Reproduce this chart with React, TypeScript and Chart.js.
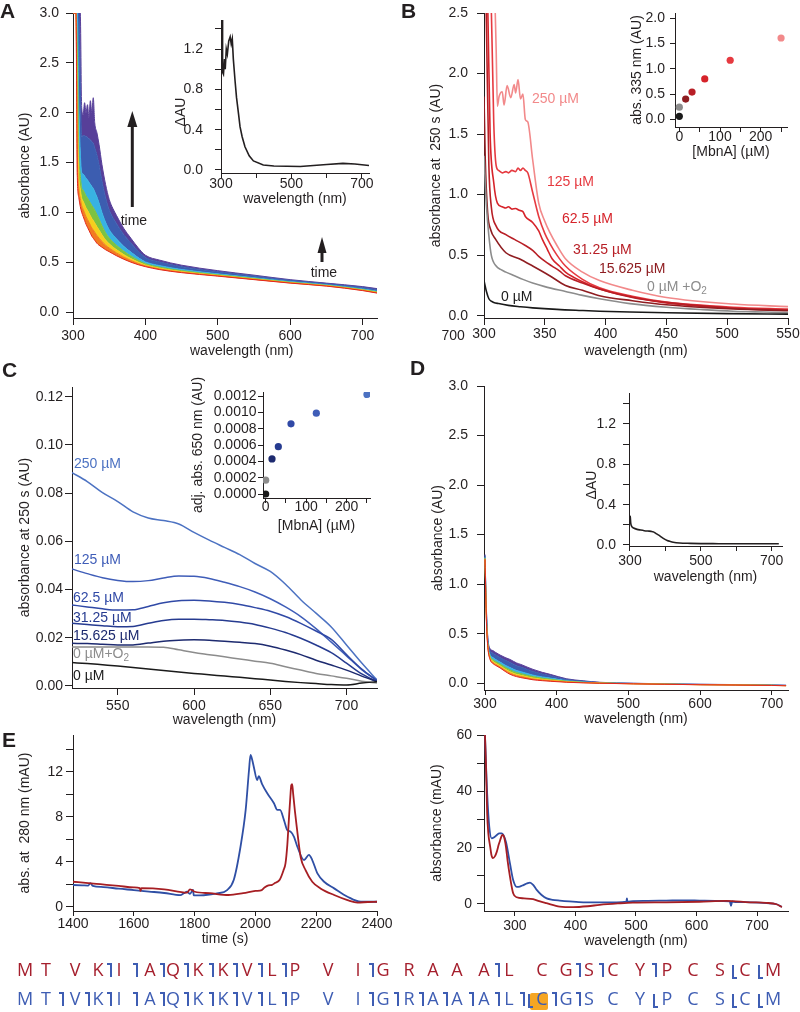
import React, { useEffect, useRef } from "react";
import { Chart, registerables } from "chart.js";

Chart.register(...registerables);

const INK = "#231f20";
const SANS = "'Liberation Sans', Arial, Helvetica, sans-serif";

// ================= Panel A : spectra over time =================
const wlA = [300, 304, 306, 308, 310, 312, 314, 316, 318, 320, 322, 324, 326, 328, 330, 333, 336, 340, 345, 350, 355, 360, 370, 380, 390, 400, 420, 450, 500, 550, 600, 650, 700, 720];
const aRed = [3.0, 3.0, 1.35, 1.15, 1.06, 1.0, 0.96, 0.92, 0.88, 0.85, 0.82, 0.79, 0.76, 0.74, 0.72, 0.69, 0.67, 0.65, 0.625, 0.605, 0.585, 0.565, 0.53, 0.5, 0.475, 0.455, 0.425, 0.395, 0.36, 0.325, 0.29, 0.26, 0.215, 0.19];
const aOrange = [3.0, 3.0, 1.6, 1.24, 1.14, 1.067, 1.031, 0.994, 0.957, 0.929, 0.901, 0.872, 0.843, 0.823, 0.801, 0.768, 0.741, 0.708, 0.671, 0.642, 0.617, 0.593, 0.552, 0.517, 0.487, 0.463, 0.432, 0.4, 0.364, 0.328, 0.292, 0.262, 0.218, 0.193];
const aYellow = [3.0, 3.0, 2.0, 1.38, 1.24, 1.143, 1.112, 1.079, 1.045, 1.02, 0.993, 0.966, 0.939, 0.919, 0.894, 0.857, 0.822, 0.775, 0.723, 0.684, 0.653, 0.626, 0.577, 0.536, 0.501, 0.472, 0.439, 0.406, 0.368, 0.332, 0.295, 0.265, 0.221, 0.197];
const aGreen = [3.0, 3.0, 2.6, 1.6, 1.38, 1.247, 1.223, 1.196, 1.166, 1.144, 1.119, 1.094, 1.069, 1.049, 1.022, 0.979, 0.933, 0.866, 0.795, 0.742, 0.703, 0.67, 0.611, 0.562, 0.519, 0.485, 0.45, 0.415, 0.374, 0.337, 0.299, 0.268, 0.225, 0.202];
const aCyan = [3.0, 3.0, 3.0, 2.1, 1.62, 1.399, 1.384, 1.365, 1.342, 1.325, 1.303, 1.281, 1.26, 1.24, 1.207, 1.156, 1.094, 0.999, 0.9, 0.826, 0.776, 0.735, 0.66, 0.601, 0.546, 0.503, 0.465, 0.427, 0.383, 0.344, 0.305, 0.273, 0.232, 0.209];
const aBlue = [3.0, 3.0, 3.0, 3.0, 2.3, 1.76, 1.768, 1.768, 1.76, 1.754, 1.74, 1.726, 1.712, 1.692, 1.648, 1.578, 1.478, 1.314, 1.149, 1.025, 0.949, 0.889, 0.778, 0.692, 0.611, 0.547, 0.501, 0.455, 0.404, 0.361, 0.318, 0.284, 0.247, 0.226];
const aViolet = [3.0, 3.0, 3.0, 3.0, 3.0, 2.05, 1.98, 2.1, 2.0, 2.08, 1.95, 2.12, 2.0, 2.15, 1.9, 1.8, 1.68, 1.48, 1.28, 1.13, 1.04, 0.97, 0.84, 0.74, 0.645, 0.57, 0.52, 0.47, 0.415, 0.37, 0.325, 0.29, 0.255, 0.235];
const rainbowColors = ["#e2261e", "#f27b21", "#f5cf1d", "#7cc242", "#38b2e2", "#3c5db0", "#573f99"];

const wlAInset = [300, 300.5, 303, 304, 305, 307, 310, 312, 315, 318, 322, 326, 329, 332, 335, 340, 344, 350, 354, 360, 368, 380, 392, 420, 450, 525, 600, 646, 680, 720];
const dAInset = [0, 3, 3, 1.0, 0.97, 0.95, 1.1, 1.0, 1.2, 1.15, 1.28, 1.32, 1.25, 1.3, 1.1, 0.88, 0.72, 0.55, 0.43, 0.33, 0.23, 0.14, 0.09, 0.05, 0.04, 0.035, 0.055, 0.065, 0.06, 0.045];

// ================= Panel B : absorbance at 250 s =================
const xB0 = [300, 302, 304, 306, 308, 312, 320, 330, 340, 360, 380, 395, 420, 450, 500, 550];
const yB0 = [0.29, 0.2, 0.14, 0.12, 0.11, 0.1, 0.085, 0.074, 0.065, 0.052, 0.043, 0.037, 0.03, 0.024, 0.017, 0.013];
const xBO2 = [300, 302, 304, 306, 310, 314, 318, 325, 332, 340, 350, 367, 380, 395, 420, 450, 480, 505, 530, 550];
const yBO2 = [1.32, 0.91, 0.66, 0.5, 0.41, 0.38, 0.36, 0.33, 0.3, 0.27, 0.24, 0.2, 0.17, 0.14, 0.1, 0.07, 0.05, 0.037, 0.03, 0.025];
const xB15 = [300, 301, 303, 305.5, 309.6, 318, 329, 340, 354, 367, 381, 395, 422, 450, 505, 550];
const yB15 = [1.81, 1.3, 0.85, 0.71, 0.63, 0.52, 0.47, 0.41, 0.33, 0.25, 0.21, 0.165, 0.124, 0.09, 0.055, 0.041];
const xB31 = [300, 302, 304, 306, 310, 318, 325, 334, 340, 345, 350, 356, 362, 367, 381, 395, 422, 450, 505, 550];
const yB31 = [3.5, 2.4, 1.24, 0.9, 0.74, 0.67, 0.63, 0.58, 0.54, 0.49, 0.45, 0.41, 0.37, 0.33, 0.27, 0.22, 0.15, 0.11, 0.062, 0.045];
const xB62 = [300, 303, 305, 308, 311, 315, 318, 320, 323, 326, 329, 332, 334, 340, 345, 348, 352, 356, 362, 367, 381, 395, 422, 450, 505, 550];
const yB62 = [3.5, 2.6, 1.51, 1.1, 0.93, 0.9, 0.89, 0.9, 0.88, 0.885, 0.87, 0.86, 0.82, 0.77, 0.7, 0.63, 0.55, 0.47, 0.41, 0.36, 0.28, 0.22, 0.155, 0.105, 0.062, 0.048];
const xB125 = [300, 305, 308, 310, 312, 315, 318, 320, 323, 326, 328, 330, 332, 334, 336, 340, 345, 350, 354, 360, 367, 381, 395, 422, 450, 505, 550];
const yB125 = [3.5, 3.0, 1.6, 1.24, 1.2, 1.18, 1.19, 1.18, 1.2, 1.19, 1.22, 1.2, 1.22, 1.2, 1.18, 1.02, 0.82, 0.68, 0.6, 0.5, 0.41, 0.3, 0.23, 0.16, 0.112, 0.07, 0.055];
const xB250 = [309, 310, 311, 312.4, 315, 316.5, 319, 322, 324.8, 326, 328, 330, 332, 334, 336, 340, 345, 350, 354, 360, 367, 381, 395, 422, 450, 505, 550];
const yB250 = [2.6, 2.2, 1.73, 1.81, 1.85, 1.74, 1.9, 1.8, 1.91, 1.84, 1.95, 1.79, 1.83, 1.62, 1.6, 1.29, 0.93, 0.78, 0.69, 0.58, 0.47, 0.36, 0.29, 0.21, 0.15, 0.096, 0.075];
const redShades = ["#1a1a1a", "#8c8c8c", "#8f1d21", "#b81f26", "#d6232a", "#e63a40", "#f2898a"];

const concInset = [0, 0, 15.625, 31.25, 62.5, 125, 250];
const abs335 = [0.06, 0.24, 0.4, 0.54, 0.8, 1.17, 1.61];

// ================= Panel C : 520-720 nm =================
const wlC = [520, 530, 540, 550, 560, 570, 580, 590, 600, 610, 620, 630, 640, 650, 660, 670, 680, 690, 700, 710, 720];
const c250 = [0.0885, 0.0848, 0.0802, 0.0765, 0.0722, 0.0697, 0.0686, 0.0672, 0.0637, 0.0605, 0.0575, 0.0545, 0.0508, 0.0475, 0.0422, 0.0358, 0.0302, 0.0245, 0.017, 0.0095, 0.0025];
const c125 = [0.0485, 0.0466, 0.0449, 0.0438, 0.0433, 0.0437, 0.0448, 0.0456, 0.0455, 0.0446, 0.043, 0.0412, 0.039, 0.0362, 0.0328, 0.0288, 0.0238, 0.0182, 0.0125, 0.0068, 0.0022];
const c62 = [0.0336, 0.0328, 0.032, 0.0315, 0.0316, 0.033, 0.0345, 0.0354, 0.0356, 0.0353, 0.0347, 0.0338, 0.0325, 0.031, 0.0288, 0.026, 0.0228, 0.0193, 0.013, 0.007, 0.0022];
const c31 = [0.026, 0.0255, 0.025, 0.0246, 0.0247, 0.026, 0.0272, 0.0277, 0.0277, 0.0275, 0.0272, 0.0265, 0.0255, 0.024, 0.0222, 0.0198, 0.017, 0.0138, 0.0095, 0.005, 0.0018];
const c15 = [0.0177, 0.0176, 0.0173, 0.017, 0.017, 0.0178, 0.0186, 0.019, 0.0192, 0.019, 0.0186, 0.0181, 0.0176, 0.0165, 0.0149, 0.013, 0.0107, 0.0087, 0.0066, 0.0041, 0.0018];
const cO2 = [0.0162, 0.0162, 0.0162, 0.0162, 0.0162, 0.0162, 0.0161, 0.015, 0.0139, 0.013, 0.0121, 0.0112, 0.0103, 0.0094, 0.008, 0.0066, 0.0052, 0.0042, 0.0032, 0.002, 0.0012];
const c0 = [0.0097, 0.0093, 0.0088, 0.0083, 0.0077, 0.0071, 0.0064, 0.0058, 0.0052, 0.0047, 0.0041, 0.0036, 0.003, 0.0025, 0.0019, 0.0014, 0.001, 0.0006, 0.0004, 0.0012, 0.0018];
const blueShades = ["#1a1a1a", "#8c8c8c", "#1d2a6f", "#263b90", "#3049a6", "#3f5db8", "#4c72c2"];
const abs650 = [0.0, 0.00017, 0.00043, 0.00058, 0.00086, 0.00099, 0.00122];

// ================= Panel D : control spectra =================
const wlD = [300, 302, 304, 307, 311, 315, 321, 328, 335, 344, 350, 360, 367, 380, 391, 414, 437, 460, 507, 550, 600, 650, 700, 720];
const dRed = [1.25, 0.62, 0.36, 0.24, 0.2, 0.18, 0.155, 0.12, 0.09, 0.067, 0.057, 0.044, 0.035, 0.026, 0.02, 0.01, 0.004, 0.0, -0.006, -0.01, -0.015, -0.018, -0.022, -0.025];
const dOrange = [1.254, 0.63, 0.368, 0.249, 0.21, 0.19, 0.165, 0.131, 0.102, 0.078, 0.068, 0.053, 0.043, 0.033, 0.026, 0.013, 0.006, 0.001, -0.006, -0.01, -0.015, -0.018, -0.022, -0.025];
const dYellow = [1.259, 0.642, 0.377, 0.259, 0.222, 0.202, 0.177, 0.144, 0.116, 0.09, 0.08, 0.064, 0.053, 0.04, 0.032, 0.016, 0.008, 0.002, -0.005, -0.009, -0.014, -0.017, -0.021, -0.024];
const dGreen = [1.265, 0.659, 0.39, 0.273, 0.239, 0.219, 0.194, 0.162, 0.135, 0.108, 0.097, 0.079, 0.067, 0.051, 0.041, 0.021, 0.01, 0.003, -0.004, -0.009, -0.014, -0.017, -0.021, -0.024];
const dCyan = [1.273, 0.679, 0.405, 0.29, 0.259, 0.239, 0.214, 0.183, 0.158, 0.129, 0.117, 0.096, 0.082, 0.064, 0.052, 0.026, 0.013, 0.005, -0.003, -0.008, -0.013, -0.016, -0.02, -0.023];
const dBlue = [1.29, 0.724, 0.44, 0.328, 0.304, 0.284, 0.259, 0.232, 0.21, 0.177, 0.163, 0.137, 0.119, 0.093, 0.076, 0.038, 0.021, 0.008, -0.001, -0.006, -0.011, -0.014, -0.018, -0.021];
const dViolet = [1.3, 0.75, 0.46, 0.35, 0.33, 0.31, 0.285, 0.26, 0.24, 0.205, 0.19, 0.16, 0.14, 0.11, 0.09, 0.045, 0.025, 0.01, 0.0, -0.005, -0.01, -0.013, -0.017, -0.02];

const wlDInset = [300, 301, 302, 304, 306, 310, 320, 330, 340, 350, 360, 366, 375, 385, 394, 405, 414, 422, 440, 470, 500, 550, 600, 650, 700, 720];
const dDInset = [0.29, 0.27, 0.22, 0.19, 0.178, 0.168, 0.155, 0.148, 0.142, 0.138, 0.135, 0.13, 0.11, 0.088, 0.066, 0.045, 0.035, 0.028, 0.02, 0.016, 0.014, 0.013, 0.012, 0.012, 0.012, 0.012];

// ================= Panel E : HPLC trace + spectra =================
const tEBlue = [1400, 1430, 1450, 1457, 1465, 1500, 1550, 1600, 1650, 1700, 1753, 1765, 1775, 1785, 1795, 1797, 1800, 1830, 1874, 1907, 1929, 1951, 1968, 1979, 1984, 1990, 1995, 2006, 2011, 2022, 2039, 2061, 2072, 2081, 2094, 2105, 2116, 2127, 2138, 2160, 2176, 2187, 2204, 2226, 2259, 2303, 2347, 2400];
const vEBlue = [1.93, 1.9, 1.88, 2.1, 1.85, 1.75, 1.6, 1.48, 1.35, 1.22, 1.03, 1.2, 1.33, 1.15, 1.5, 1.03, 1.0, 1.02, 1.18, 1.48, 2.4, 5.33, 8.6, 12.15, 13.5, 13.0, 12.4, 11.26, 11.6, 10.9, 10.08, 9.2, 8.6, 8.6, 7.7, 6.8, 6.67, 6.2, 5.33, 4.15, 4.6, 4.15, 2.96, 2.22, 1.63, 0.89, 0.44, 0.44];
const tERed = [1400, 1450, 1490, 1550, 1600, 1620, 1622, 1625, 1700, 1775, 1785, 1790, 1801, 1850, 1911, 1960, 2000, 2021, 2030, 2043, 2055, 2064, 2080, 2092, 2099, 2105, 2110, 2115, 2118, 2121, 2124, 2130, 2136, 2149, 2165, 2187, 2214, 2259, 2303, 2336, 2370, 2400];
const vERed = [2.22, 2.1, 2.0, 1.85, 1.72, 1.66, 1.4, 1.65, 1.55, 1.25, 1.55, 1.5, 1.33, 1.2, 1.04, 1.2, 1.4, 1.48, 1.7, 1.9, 1.95, 2.1, 2.4, 3.2, 3.85, 5.5, 7.7, 9.8, 10.8, 10.9, 10.1, 8.5, 7.1, 4.4, 3.26, 2.22, 1.63, 1.04, 0.59, 0.37, 0.42, 0.44];
const wlEBlue = [249, 250.4, 252, 254, 257.5, 261.5, 265, 270, 274, 278, 285, 291.7, 297, 302.8, 308, 313.8, 320, 324.8, 330, 335.9, 344, 352.4, 362, 374, 390, 413, 440, 468, 484, 485, 486, 495, 520, 550, 580, 605, 630, 655, 657, 659, 661, 690, 716, 732.5, 741];
const aEBlue = [65, 60, 50, 39.3, 27.5, 23.3, 23.6, 24.5, 25.1, 25.1, 22.1, 14.4, 8.5, 6.1, 6.2, 6.7, 7.3, 7.6, 6.8, 5.0, 3.2, 2.0, 1.5, 1.2, 0.9, 0.6, 0.6, 0.6, 0.8, 2.0, 0.8, 1.0, 1.1, 1.2, 1.3, 1.2, 1.1, 0.9, -0.7, 0.9, 0.8, 0.6, 0.3, -0.1, -1.1];
const wlERed = [249, 250.4, 252, 254, 256, 259, 261, 263.5, 267, 270, 273, 275.6, 278, 280, 282, 285, 288, 291.7, 297, 302.8, 315, 330, 340, 352, 374, 396, 420, 440, 470, 495, 550, 605, 649, 688, 715, 732, 741];
const aERed = [65, 60, 50, 32.2, 25, 20.4, 17.5, 16.3, 17, 18.6, 21, 22.7, 24.2, 24.5, 23.8, 20.4, 15, 9.7, 3.8, 2.4, 2.0, 1.7, 1.0, 0.3, -0.9, -1.1, -0.8, -0.3, 0.2, 0.5, 0.6, 0.8, 1.1, 0.6, 0.4, -0.1, -1.1];
const E_RED = "#a61e23";
const E_BLUE = "#2f4fa5";

// ================= tick values =================
const ticksWl100 = [300, 400, 500, 600, 700];
const ticksA_y = [0, 0.5, 1, 1.5, 2, 2.5, 3];
const ticksInset_y = [0, 0.2, 0.4, 0.6, 0.8, 1.0, 1.2, 1.4];
const ticksB_x = [300, 350, 400, 450, 500, 550];
const ticksB_y = [0, 0.5, 1, 1.5, 2, 2.5];
const ticksConc = [0, 50, 100, 150, 200, 250];
const ticksBInset_y = [0, 0.5, 1, 1.5, 2];
const ticksC_x = [550, 600, 650, 700];
const ticksC_y = [0, 0.02, 0.04, 0.06, 0.08, 0.1, 0.12];
const ticksCInset_y = [0, 0.0002, 0.0004, 0.0006, 0.0008, 0.001, 0.0012];
const ticksE_x = [1400, 1600, 1800, 2000, 2200, 2400];
const ticksE_y = [0, 2, 4, 6, 8, 10, 12, 14];
const ticksE2_y = [0, 10, 20, 30, 40, 50, 60];

// ================= helpers =================
const xy = (xs: number[], ys: number[]) => xs.map((x, i) => ({ x, y: ys[i] }));
const fmtFixed = (d: number) => (v: number) => v.toFixed(d);
const fmtEvery = (step: number, d: number, base = 0) => (v: number) =>
  Math.abs((v - base) / step - Math.round((v - base) / step)) < 1e-6 ? v.toFixed(d) : "";

function line(xs: number[], ys: number[], color: string, width = 1.5, extra: any = {}) {
  return {
    data: xy(xs, ys),
    borderColor: color,
    backgroundColor: color,
    borderWidth: width,
    pointRadius: 0,
    fill: false,
    cubicInterpolationMode: "monotone",
    ...extra,
  };
}

function rainbow(xs: number[], curves: number[][]) {
  return curves.map((ys, i) =>
    line(xs, ys, rainbowColors[i], 1, { fill: i === 0 ? false : "-1", backgroundColor: rainbowColors[i] })
  );
}

function dots(xs: number[], ys: number[], colors: string[]) {
  return {
    data: xy(xs, ys),
    pointBackgroundColor: colors,
    pointBorderColor: colors,
    pointBorderWidth: 0,
    pointRadius: 3.6,
    showLine: false,
  };
}

type Axis = { min: number; max: number; ticks: number[]; fmt: (v: number) => string; title: string; tl: number; pad: number };
type Box = { L: number; T: number; R: number; B: number; wy: number; hx: number; pt: number; pr: number };
type Spec = { type: "line" | "scatter"; box: Box; x: Axis; y: Axis; datasets: any[] };

function axisOptions(a: Axis, horiz: boolean, size: number) {
  return {
    type: "linear",
    position: horiz ? "bottom" : "left",
    min: a.min,
    max: a.max,
    bounds: "data",
    afterBuildTicks: (s: any) => {
      s.ticks = a.ticks.map((v) => ({ value: v }));
    },
    afterFit: (s: any) => {
      if (horiz) s.height = size;
      else s.width = size;
      s.paddingLeft = 0;
      s.paddingRight = 0;
      s.paddingTop = 0;
      s.paddingBottom = 0;
    },
    grid: { display: true, drawOnChartArea: false, drawTicks: true, tickLength: a.tl, tickColor: INK, tickWidth: 1, color: INK },
    border: { display: true, color: INK, width: 1 },
    ticks: {
      autoSkip: false,
      maxRotation: 0,
      minRotation: 0,
      padding: a.pad,
      color: INK,
      font: { family: SANS, size: 14 },
      callback: (v: any) => a.fmt(Number(v)),
    },
    title: {
      display: a.title !== "",
      text: a.title,
      color: INK,
      font: { family: SANS, size: 14 },
      padding: horiz ? { top: 0, bottom: 2 } : { top: 2, bottom: 0 },
    },
  };
}

function Plot({ spec }: { spec: Spec }) {
  const ref = useRef<HTMLCanvasElement | null>(null);
  const { L, T, R, B, wy, hx, pt, pr } = spec.box;
  const left = L - wy;
  const top = T - pt;
  const width = R - L + wy + pr;
  const height = B - T + pt + hx;
  useEffect(() => {
    const chart = new Chart(ref.current as HTMLCanvasElement, {
      type: spec.type,
      data: { datasets: spec.datasets },
      options: {
        responsive: false,
        animation: false,
        devicePixelRatio: 1,
        events: [],
        layout: { padding: { top: pt, right: pr, left: 0, bottom: 0 } },
        plugins: { legend: { display: false }, tooltip: { enabled: false } },
        scales: { x: axisOptions(spec.x, true, hx), y: axisOptions(spec.y, false, wy) },
      } as any,
    } as any);
    return () => chart.destroy();
  }, []);
  return (
    <canvas
      ref={ref}
      width={width}
      height={height}
      style={{ position: "absolute", left, top, width, height }}
    />
  );
}

const wlTitle = "wavelength (nm)";
const concTitle = "[MbnA] (µM)";

const specs: Spec[] = [
  // A main
  {
    type: "line",
    box: { L: 73, T: 13, R: 377, B: 318, wy: 58, hx: 44, pt: 12, pr: 18 },
    x: { min: 300, max: 720, ticks: ticksWl100, fmt: fmtFixed(0), title: "", tl: 7, pad: 3 },
    y: { min: -0.06, max: 3.0, ticks: ticksA_y, fmt: fmtFixed(1), title: "absorbance (AU)", tl: 7, pad: 7 },
    datasets: rainbow(wlA, [aRed, aOrange, aYellow, aGreen, aCyan, aBlue, aViolet]),
  },
  // A inset
  {
    type: "line",
    box: { L: 221, T: 20, R: 369, B: 173, wy: 52, hx: 37, pt: 10, pr: 18 },
    x: { min: 300, max: 720, ticks: ticksWl100, fmt: fmtEvery(200, 0, 300), title: wlTitle, tl: 5, pad: -2 },
    y: { min: -0.03, max: 1.488, ticks: ticksInset_y, fmt: fmtEvery(0.4, 1), title: "", tl: 6, pad: 12 },
    datasets: [line(wlAInset, dAInset, INK, 1.6, { cubicInterpolationMode: "default", tension: 0 })],
  },
  // B main
  {
    type: "line",
    box: { L: 484, T: 13, R: 788, B: 318, wy: 58, hx: 44, pt: 12, pr: 12 },
    x: { min: 300, max: 550, ticks: ticksB_x, fmt: fmtFixed(0), title: wlTitle, tl: 7, pad: 1 },
    y: { min: -0.019, max: 2.5, ticks: ticksB_y, fmt: fmtFixed(1), title: "absorbance at  250 s (AU)", tl: 7, pad: 9 },
    datasets: [
      line(xB0, yB0, redShades[0], 1.6),
      line(xBO2, yBO2, redShades[1], 1.6),
      line(xB15, yB15, redShades[2], 1.6),
      line(xB31, yB31, redShades[3], 1.6),
      line(xB62, yB62, redShades[4], 1.6),
      line(xB125, yB125, redShades[5], 1.6),
      line(xB250, yB250, redShades[6], 1.6),
    ],
  },
  // B inset
  {
    type: "scatter",
    box: { L: 675, T: 13, R: 787, B: 127, wy: 48, hx: 36, pt: 10, pr: 12 },
    x: { min: -10.6, max: 264.6, ticks: ticksConc, fmt: fmtEvery(100, 0), title: concTitle, tl: 5, pad: -3 },
    y: { min: -0.152, max: 2.105, ticks: ticksBInset_y, fmt: fmtFixed(1), title: "abs. 335 nm (AU)", tl: 5, pad: 5 },
    datasets: [dots(concInset, abs335, redShades)],
  },
  // C main
  {
    type: "line",
    box: { L: 72, T: 387, R: 377, B: 688, wy: 57, hx: 43, pt: 12, pr: 18 },
    x: { min: 520, max: 720, ticks: ticksC_x, fmt: fmtFixed(0), title: wlTitle, tl: 7, pad: 3 },
    y: { min: -0.00083, max: 0.124, ticks: ticksC_y, fmt: fmtFixed(2), title: "absorbance at 250 s (AU)", tl: 7, pad: 2 },
    datasets: [
      line(wlC, c0, blueShades[0], 1.5),
      line(wlC, cO2, blueShades[1], 1.5),
      line(wlC, c15, blueShades[2], 1.5),
      line(wlC, c31, blueShades[3], 1.5),
      line(wlC, c62, blueShades[4], 1.5),
      line(wlC, c125, blueShades[5], 1.5),
      line(wlC, c250, blueShades[6], 1.5),
    ],
  },
  // C inset
  {
    type: "scatter",
    box: { L: 263, T: 392, R: 370, B: 498, wy: 75, hx: 39, pt: 32, pr: 15 },
    x: { min: -6.6, max: 257.5, ticks: ticksConc, fmt: fmtEvery(100, 0), title: concTitle, tl: 5, pad: -4 },
    y: { min: -0.000049, max: 0.00125, ticks: ticksCInset_y, fmt: fmtFixed(4), title: "adj. abs. 650 nm (AU)", tl: 5, pad: 1.5 },
    datasets: [dots(concInset, abs650, blueShades)],
  },
  // D main
  {
    type: "line",
    box: { L: 484, T: 386, R: 788, B: 690, wy: 56, hx: 40, pt: 12, pr: 12 },
    x: { min: 298.6, max: 722.7, ticks: ticksWl100, fmt: fmtFixed(0), title: wlTitle, tl: 5, pad: 1 },
    y: { min: -0.068, max: 3.0, ticks: ticksA_y, fmt: fmtFixed(1), title: "absorbance (AU)", tl: 7, pad: 9 },
    datasets: rainbow(wlD, [dRed, dOrange, dYellow, dGreen, dCyan, dBlue, dViolet]),
  },
  // D inset
  {
    type: "line",
    box: { L: 629, T: 393, R: 782, B: 546, wy: 48, hx: 42, pt: 10, pr: 15 },
    x: { min: 297.2, max: 729, ticks: ticksWl100, fmt: fmtEvery(200, 0, 300), title: wlTitle, tl: 5, pad: 1.6 },
    y: { min: -0.01, max: 1.507, ticks: ticksInset_y, fmt: fmtEvery(0.4, 1), title: "", tl: 6, pad: 7 },
    datasets: [line(wlDInset, dDInset, INK, 1.6)],
  },
  // E left
  {
    type: "line",
    box: { L: 73, T: 735, R: 377, B: 911, wy: 58, hx: 39, pt: 10, pr: 20 },
    x: { min: 1400, max: 2400, ticks: ticksE_x, fmt: fmtFixed(0), title: "time (s)", tl: 5, pad: 0 },
    y: { min: -0.38, max: 15.26, ticks: ticksE_y, fmt: fmtEvery(4, 0), title: "abs. at  280 nm (mAU)", tl: 7, pad: 3 },
    datasets: [line(tERed, vERed, E_RED, 1.8), line(tEBlue, vEBlue, E_BLUE, 1.8)],
  },
  // E right
  {
    type: "line",
    box: { L: 484, T: 735, R: 788, B: 911, wy: 57, hx: 41, pt: 12, pr: 12 },
    x: { min: 248.8, max: 751.2, ticks: ticksWl100, fmt: fmtFixed(0), title: wlTitle, tl: 5, pad: 1.6 },
    y: { min: -2.49, max: 60, ticks: ticksE2_y, fmt: fmtEvery(20, 0), title: "absorbance (mAU)", tl: 7, pad: 5 },
    datasets: [line(wlERed, aERed, E_RED, 1.8), line(wlEBlue, aEBlue, E_BLUE, 1.8)],
  },
];

// ================= text helpers =================
function Txt({ x, y, color = INK, size = 14, children, bold = false, family = SANS }: any) {
  return (
    <div
      style={{
        position: "absolute",
        left: x,
        top: y,
        color,
        fontSize: size,
        lineHeight: 1,
        fontFamily: family,
        fontWeight: bold ? 700 : 400,
        whiteSpace: "nowrap",
      }}
    >
      {children}
    </div>
  );
}

function VTxt({ cx, cy, children }: any) {
  return (
    <div
      style={{
        position: "absolute",
        left: cx,
        top: cy,
        fontSize: 14,
        lineHeight: 1,
        fontFamily: SANS,
        color: INK,
        whiteSpace: "nowrap",
        transform: "translate(-50%, -50%) rotate(-90deg)",
      }}
    >
      {children}
    </div>
  );
}

const Sub2 = () => <span style={{ fontSize: 10, position: "relative", top: 3 }}>2</span>;

const LETTER_FONT = "'Liberation Sans Narrow', 'Liberation Sans', Arial, sans-serif";

// ================= sequence =================
const seqResidues = "MTVKIAQKKVLPVIGRAAALCGSCYPCSCM";
const seqX = [25, 46, 75, 98, 119, 150, 173, 198, 223, 247, 272, 295, 328, 358, 383, 409, 433, 457, 484, 509, 542, 566, 589, 613, 640, 667, 693, 720, 745, 773];
const cutsRow1: [number, string, number][] = [
  [3, "n", 0], [4, "n", 0], [5, "n", 0], [6, "n", 0], [7, "n", 0], [8, "n", 0], [9, "n", 0], [10, "n", 0],
  [13, "n", 0], [18, "n", 0], [21, "n", 0], [22, "n", 0], [24, "n", 0], [27, "c", 0], [28, "c", 0],
];
const cutsRow2: [number, string, number][] = [
  [1, "n", 0], [2, "n", 0], [3, "n", 0], [4, "n", 0], [5, "n", 0], [6, "n", 0], [7, "n", 0], [8, "n", 0], [9, "n", 0], [10, "n", 0],
  [13, "n", 0], [14, "n", 0], [15, "n", 0], [16, "n", 0], [17, "n", 0], [18, "n", 0], [19, "n", -4], [19, "c", 3], [20, "n", 0], [21, "n", 0],
  [24, "c", 0], [27, "c", 0], [28, "c", 0],
];
const SEQ_BLUE = "#3e5db3";
const SEQ_RED = "#a51f2d";

function SeqRow({ capTop, color, cuts, highlight }: any) {
  const top = capTop - 3.1;
  return (
    <>
      {highlight !== undefined && (
        <div
          style={{
            position: "absolute",
            left: seqX[highlight] - 12,
            top: capTop + 1,
            width: 17.5,
            height: 17,
            background: "#f6a623",
            borderRadius: 2,
          }}
        />
      )}
      {seqResidues.split("").map((ch, i) => (
        <div
          key={"r" + i}
          style={{
            position: "absolute",
            left: seqX[i] - 10,
            top,
            width: 20,
            textAlign: "center",
            fontFamily: "'Open Sans', 'Noto Sans', sans-serif",
            fontSize: 18,
            lineHeight: 1,
            color,
          }}
        >
          {ch}
        </div>
      ))}
      {cuts.map(([i, kind, dx]: [number, string, number], k: number) => {
        const bx = (seqX[i] + seqX[i + 1]) / 2 + 1 + dx;
        return kind === "n" ? (
          <div
            key={"c" + k}
            style={{
              position: "absolute",
              left: bx - 3,
              top: capTop,
              width: 5,
              height: 14,
              borderTop: `2.5px solid ${SEQ_BLUE}`,
              borderRight: `2.5px solid ${SEQ_BLUE}`,
              boxSizing: "border-box",
            }}
          />
        ) : (
          <div
            key={"c" + k}
            style={{
              position: "absolute",
              left: bx - 2,
              top: capTop + 1.5,
              width: 5,
              height: 14,
              borderBottom: `2.5px solid ${SEQ_BLUE}`,
              borderLeft: `2.5px solid ${SEQ_BLUE}`,
              boxSizing: "border-box",
            }}
          />
        );
      })}
    </>
  );
}

export default function App() {
  return (
    <div
      style={{
        position: "absolute",
        left: 0,
        top: 0,
        width: 800,
        height: 1012,
        background: "#ffffff",
        overflow: "hidden",
        fontFamily: SANS,
        color: INK,
      }}
    >
      {specs.map((s, i) => (
        <Plot key={i} spec={s} />
      ))}

      {/* arrows in panel A */}
      <svg width={800} height={1012} style={{ position: "absolute", left: 0, top: 0, pointerEvents: "none" }}>
        <line x1={132.3} y1={207} x2={132.3} y2={124} stroke={INK} strokeWidth={3} />
        <polygon points="127.3,127 132.3,111 137.3,127" fill={INK} />
        <line x1={322} y1={262} x2={322} y2={250} stroke={INK} strokeWidth={3} />
        <polygon points="317.5,253 322,237 326.5,253" fill={INK} />
      </svg>

      {/* panel letters */}
      <Txt x={0} y={0} size={21} bold family={LETTER_FONT}>A</Txt>
      <Txt x={401} y={0} size={21} bold family={LETTER_FONT}>B</Txt>
      <Txt x={2} y={359} size={21} bold family={LETTER_FONT}>C</Txt>
      <Txt x={410} y={357} size={21} bold family={LETTER_FONT}>D</Txt>
      <Txt x={2} y={729} size={21} bold family={LETTER_FONT}>E</Txt>

      {/* panel A annotations */}
      <Txt x={120.7} y={213.2}>time</Txt>
      <Txt x={310.7} y={265.2}>time</Txt>
      <Txt x={190} y={343}>wavelength (nm)</Txt>
      <VTxt cx={179.5} cy={112}>ΔAU</VTxt>

      {/* panel B labels */}
      <Txt x={441.5} y={328}>700</Txt>
      <Txt x={532} y={91.2} color={redShades[6]}>250 µM</Txt>
      <Txt x={547} y={174.2} color={redShades[5]}>125 µM</Txt>
      <Txt x={562} y={211.2} color={redShades[4]}>62.5 µM</Txt>
      <Txt x={573} y={242.2} color={redShades[3]}>31.25 µM</Txt>
      <Txt x={599} y={261.2} color={redShades[2]}>15.625 µM</Txt>
      <Txt x={647} y={279.2} color={redShades[1]}>0 µM +O<Sub2 /></Txt>
      <Txt x={501} y={289.2} color={redShades[0]}>0 µM</Txt>

      {/* panel C labels */}
      <Txt x={74} y={456.2} color={blueShades[6]}>250 µM</Txt>
      <Txt x={74} y={552.2} color={blueShades[5]}>125 µM</Txt>
      <Txt x={73} y={590.2} color={blueShades[4]}>62.5 µM</Txt>
      <Txt x={73} y={610.2} color={blueShades[3]}>31.25 µM</Txt>
      <Txt x={73} y={628.2} color={blueShades[2]}>15.625 µM</Txt>
      <Txt x={73} y={646.2} color={blueShades[1]}>0 µM+O<Sub2 /></Txt>
      <Txt x={73} y={668.2} color={blueShades[0]}>0 µM</Txt>

      {/* panel D inset title */}
      <VTxt cx={591} cy={485}>ΔAU</VTxt>

      {/* sequences */}
      <SeqRow capTop={963} color={SEQ_RED} cuts={cutsRow1} />
      <SeqRow capTop={992} color={SEQ_BLUE} cuts={cutsRow2} highlight={20} />
    </div>
  );
}
